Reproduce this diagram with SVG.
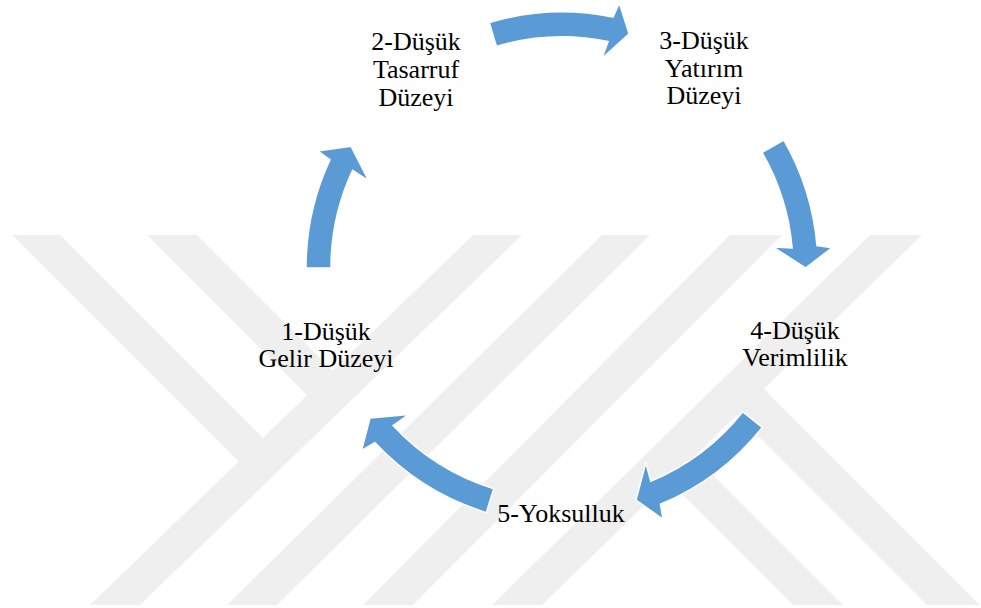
<svg xmlns="http://www.w3.org/2000/svg" width="981" height="608" viewBox="0 0 981 608">
<style>
.wm{fill:#efefef}
.arr{fill:#5b9bd5;stroke:#ffffff;stroke-width:1.5;stroke-linejoin:miter}
.lbl{font-family:"Liberation Serif","Times New Roman",serif;font-size:26px;fill:#000;text-anchor:middle}
</style>
<rect width="981" height="608" fill="#ffffff"/>
<g id="watermark">
<polygon class="wm" points="12,235 60,235 275,450 238.5,461.5"/>
<polygon class="wm" points="147,235 197,235 345,383 307.2,395.2"/>
<polygon class="wm" points="90,605 140,605 522,235 473,235"/>
<polygon class="wm" points="227,605 277,605 650,235 602,235"/>
<polygon class="wm" points="363,605 413,605 782,235 730,235"/>
<polygon class="wm" points="492,605 542,605 922,235 870,235"/>
<polygon class="wm" points="682.2,444.2 843,605 793,605 656.8,468.8"/>
<polygon class="wm" points="763.9,388.9 980,605 927,605 724.7,402.7"/>
</g>
<g id="connectors">
<path id="a23" class="arr" d="M489.3,22.5 A256,256 0 0 1 613.0,17.1 L619.3,3.1 L629.1,33.9 L601.9,58.5 L608.1,41.6 A231,231 0 0 0 496.4,46.5 Z"/>
<path id="a34" class="arr" d="M783.7,140 A256,256 0 0 1 817.0,245.7 L832.2,247.7 L805.5,268 L773.0,246.9 L792.1,247.9 A231,231 0 0 0 762.0,152.5 Z"/>
<path id="a45" class="arr" d="M762.3,427.4 A256,256 0 0 1 660.4,504.3 L663.1,519.4 L636.0,500.0 L645.8,462.7 L650.8,481.3 A231,231 0 0 0 742.8,411.8 Z"/>
<path id="a51" class="arr" d="M486.3,512.6 A256,256 0 0 1 374.8,442.6 L361.6,450.4 L370.1,417.9 L408.7,414.5 L393.0,425.5 A231,231 0 0 0 493.7,488.7 Z"/>
<path id="a12" class="arr" d="M306,268 A256,256 0 0 1 330.0,159.8 L317.6,150.9 L351.1,146.3 L368.8,180.8 L352.6,170.4 A231,231 0 0 0 331,268 Z"/>
</g>
<g id="node1">
<text class="lbl" x="326" y="340">1-Düşük</text>
<text class="lbl" x="326" y="367">Gelir Düzeyi</text>
</g>
<g id="node2">
<text class="lbl" x="416" y="50">2-Düşük</text>
<text class="lbl" x="416" y="78">Tasarruf</text>
<text class="lbl" x="416" y="106">Düzeyi</text>
</g>
<g id="node3">
<text class="lbl" x="704" y="49">3-Düşük</text>
<text class="lbl" x="704" y="77">Yatırım</text>
<text class="lbl" x="704" y="104">Düzeyi</text>
</g>
<g id="node4">
<text class="lbl" x="795" y="339">4-Düşük</text>
<text class="lbl" x="795" y="366">Verimlilik</text>
</g>
<g id="node5">
<text class="lbl" x="561" y="522">5-Yoksulluk</text>
</g>
</svg>
